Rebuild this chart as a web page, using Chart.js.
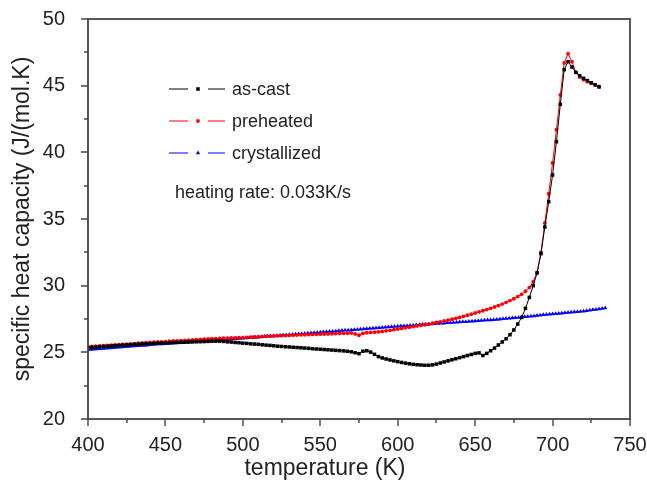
<!DOCTYPE html>
<html><head><meta charset="utf-8">
<script src="https://cdn.jsdelivr.net/npm/chart.js@4.4.1/dist/chart.umd.min.js"></script>
<style>html,body{margin:0;padding:0;background:#fff}#wrap{width:647px;height:481px}</style>
</head><body><div id="wrap"><canvas id="c" width="647" height="481"></canvas></div>
<script>
// temperature grid (K) for as-cast and preheated samples
const tempMain = [
400,402.5,405,407.5,410,412.5,415,417.5,
420,422.5,425,427.5,430,432.5,435,437.5,
440,442.5,445,447.5,450,452.5,455,457.5,
460,462.5,465,467.5,470,472.5,475,477.5,
480,482.5,485,487.5,490,492.5,495,497.5,
500,502.5,505,507.5,510,512.5,515,517.5,
520,522.5,525,527.5,530,532.5,535,537.5,
540,542.5,545,547.5,550,552.5,555,557.5,
560,562.5,565,567.5,570,572.5,575,577.5,
580,582.5,585,587.5,590,592.5,595,597.5,
600,602.5,605,607.5,610,612.5,615,617.5,
620,622.5,625,627.5,630,632.5,635,637.5,
640,642.5,645,647.5,650,652.5,655,657.5,
660,662.5,665,667.5,670,672.5,675,677.5,
680,682.5,685,687.5,690,692.5,695,697.5,
700,702.5,705,707.5,710,712.5,715,717.5,
720,722.5,725,727.5,730];
const cpAsCast = [
25.35,25.37,25.39,25.42,25.44,25.46,25.48,25.50,
25.52,25.54,25.56,25.58,25.60,25.61,25.63,25.64,
25.66,25.67,25.69,25.70,25.71,25.72,25.73,25.74,
25.75,25.76,25.77,25.78,25.79,25.80,25.81,25.82,
25.83,25.84,25.84,25.82,25.79,25.77,25.74,25.72,
25.69,25.67,25.64,25.62,25.60,25.57,25.54,25.52,
25.49,25.46,25.44,25.42,25.40,25.38,25.36,25.34,
25.32,25.30,25.27,25.25,25.23,25.21,25.19,25.17,
25.15,25.13,25.11,25.08,25.04,24.97,24.90,25.08,
25.12,25.02,24.85,24.68,24.58,24.50,24.43,24.36,
24.30,24.24,24.19,24.14,24.10,24.07,24.05,24.03,
24.03,24.06,24.12,24.20,24.28,24.36,24.44,24.52,
24.60,24.68,24.76,24.84,24.92,24.96,24.76,24.92,
25.12,25.32,25.55,25.78,26.02,26.32,26.68,27.12,
27.62,28.30,29.12,30.00,30.95,32.40,34.40,36.30,
38.30,40.80,43.60,46.20,46.80,46.40,46.00,45.75,
45.55,45.38,45.22,45.06,44.90];
const cpPreheated = [
25.42,25.44,25.46,25.48,25.50,25.52,25.54,25.56,
25.58,25.60,25.62,25.64,25.66,25.68,25.70,25.72,
25.74,25.76,25.78,25.79,25.81,25.83,25.85,25.86,
25.88,25.90,25.92,25.93,25.95,25.97,25.99,26.00,
26.02,26.03,26.05,26.06,26.07,26.08,26.09,26.10,
26.11,26.12,26.14,26.15,26.17,26.18,26.20,26.21,
26.23,26.24,26.25,26.26,26.27,26.28,26.30,26.31,
26.32,26.33,26.34,26.35,26.36,26.37,26.38,26.39,
26.41,26.42,26.43,26.44,26.45,26.38,26.28,26.42,
26.47,26.49,26.51,26.54,26.57,26.61,26.65,26.70,
26.75,26.79,26.84,26.88,26.93,26.98,27.03,27.07,
27.12,27.18,27.24,27.29,27.35,27.42,27.48,27.55,
27.62,27.70,27.78,27.86,27.95,28.03,28.12,28.21,
28.30,28.40,28.51,28.62,28.75,28.88,29.02,29.18,
29.35,29.58,29.86,30.30,31.00,32.50,34.70,36.90,
39.20,41.70,44.30,46.70,47.40,46.80,46.00,45.65,
45.45,45.30,45.18,45.06,44.95];
// temperature grid (K) for crystallized sample
const tempCrystallized = [
400,402,404,406,408,410,412,414,416,418,
420,422,424,426,428,430,432,434,436,438,
440,442,444,446,448,450,452,454,456,458,
460,462,464,466,468,470,472,474,476,478,
480,482,484,486,488,490,492,494,496,498,
500,502,504,506,508,510,512,514,516,518,
520,522,524,526,528,530,532,534,536,538,
540,542,544,546,548,550,552,554,556,558,
560,562,564,566,568,570,572,574,576,578,
580,582,584,586,588,590,592,594,596,598,
600,602,604,606,608,610,612,614,616,618,
620,622,624,626,628,630,632,634,636,638,
640,642,644,646,648,650,652,654,656,658,
660,662,664,666,668,670,672,674,676,678,
680,682,684,686,688,690,692,694,696,698,
700,702,704,706,708,710,712,714,716,718,
720,722,724,726,728,730,732,734];
const cpCrystallized = [
25.20,25.22,25.24,25.25,25.27,25.29,25.31,25.33,25.34,25.36,
25.38,25.40,25.42,25.43,25.45,25.47,25.49,25.51,25.52,25.54,
25.56,25.58,25.60,25.62,25.63,25.65,25.66,25.68,25.70,25.71,
25.73,25.74,25.76,25.78,25.79,25.81,25.82,25.84,25.86,25.87,
25.89,25.90,25.92,25.94,25.95,25.97,25.98,26.00,26.02,26.03,
26.05,26.07,26.09,26.11,26.12,26.14,26.16,26.18,26.20,26.21,
26.23,26.25,26.27,26.29,26.30,26.32,26.34,26.36,26.38,26.39,
26.41,26.43,26.45,26.47,26.48,26.50,26.52,26.54,26.56,26.57,
26.59,26.61,26.63,26.65,26.66,26.68,26.70,26.72,26.74,26.75,
26.77,26.79,26.81,26.82,26.84,26.86,26.88,26.90,26.91,26.93,
26.95,26.97,26.98,27.00,27.02,27.03,27.05,27.06,27.08,27.10,
27.11,27.13,27.14,27.16,27.18,27.19,27.21,27.22,27.24,27.26,
27.27,27.29,27.30,27.32,27.34,27.35,27.37,27.38,27.40,27.42,
27.43,27.45,27.47,27.49,27.51,27.53,27.55,27.57,27.59,27.61,
27.63,27.66,27.68,27.71,27.73,27.76,27.78,27.81,27.83,27.86,
27.88,27.90,27.92,27.94,27.96,27.98,28.00,28.02,28.04,28.06,
28.09,28.12,28.15,28.19,28.22,28.25,28.28,28.32];

const seriesNames = ['as-cast', 'preheated', 'crystallized'];
const xTicks = [400,450,500,550,600,650,700,750];
const xMinorTicks = [425,475,525,575,625,675,725];
const yTicks = [20,25,30,35,40,45,50];
const yMinorTicks = [22.5,27.5,32.5,37.5,42.5,47.5];
const xTitle = 'temperature (K)';
const yTitle = 'specific heat capacity (J/(mol.K)';
const annotation = 'heating rate: 0.033K/s';

const FONT = "'Liberation Sans', Arial, sans-serif";
const TXT = '#222';
const FRAME = '#454545';

const toXY = (xs, ys) => xs.map((x, i) => ({x: x, y: ys[i]}));

const styles = [
  {color:'#000000', point:'rect', r:2.5},
  {color:'#ff0000', point:'circle', r:1.9},
  {color:'#0000ff', point:'triangle', r:2.5}
];

const framePlugin = {
  id: 'frame',
  afterDatasetsDraw(chart) {
    const ctx = chart.ctx, a = chart.chartArea;
    const xs = chart.scales.x, ys = chart.scales.y;
    ctx.save();
    ctx.strokeStyle = FRAME;
    ctx.lineWidth = 1.8;
    ctx.strokeRect(a.left, a.top, a.right - a.left, a.bottom - a.top);
    ctx.lineWidth = 1.4;
    ctx.beginPath();
    xTicks.forEach(v => { const p = Math.round(xs.getPixelForValue(v)); ctx.moveTo(p, a.bottom); ctx.lineTo(p, a.bottom + 7); });
    xMinorTicks.forEach(v => { const p = Math.round(xs.getPixelForValue(v)); ctx.moveTo(p, a.bottom); ctx.lineTo(p, a.bottom + 4); });
    yTicks.forEach(v => { const p = Math.round(ys.getPixelForValue(v)); ctx.moveTo(a.left, p); ctx.lineTo(a.left - 7, p); });
    yMinorTicks.forEach(v => { const p = Math.round(ys.getPixelForValue(v)); ctx.moveTo(a.left, p); ctx.lineTo(a.left - 4, p); });
    ctx.stroke();
    // x-axis title (centred on the page, as in the reference)
    ctx.fillStyle = TXT;
    ctx.font = '23px ' + FONT;
    ctx.textAlign = 'center';
    ctx.textBaseline = 'middle';
    ctx.fillText(xTitle, 325, 469);
    ctx.restore();
  }
};

const legendPlugin = {
  id: 'customLegend',
  afterDatasetsDraw(chart) {
    const ctx = chart.ctx;
    ctx.save();
    const x0 = 169, rows = [89, 121, 153];
    chart.data.datasets.forEach((ds, i) => {
      const y = rows[i];
      ctx.strokeStyle = ds.borderColor;
      ctx.lineWidth = 1;
      ctx.beginPath();
      ctx.moveTo(x0, y); ctx.lineTo(x0 + 19, y);
      ctx.moveTo(x0 + 39, y); ctx.lineTo(x0 + 56, y);
      ctx.stroke();
      ctx.fillStyle = ds.borderColor;
      Chart.helpers.drawPoint(ctx, {pointStyle: ds.pointStyle, radius: ds.pointRadius, borderWidth: 0, rotation: 0}, x0 + 29, y);
      ctx.fillStyle = TXT;
      ctx.font = '18px ' + FONT;
      ctx.textBaseline = 'middle';
      ctx.textAlign = 'left';
      ctx.fillText(ds.label, x0 + 63, y + 1);
    });
    ctx.fillText(annotation, 175, 193);
    ctx.restore();
  }
};

new Chart(document.getElementById('c'), {
  type: 'line',
  data: {
    datasets: [
      {label: seriesNames[0], data: toXY(tempMain, cpAsCast)},
      {label: seriesNames[1], data: toXY(tempMain, cpPreheated)},
      {label: seriesNames[2], data: toXY(tempCrystallized, cpCrystallized)}
    ].map((d, i) => Object.assign(d, {
      borderColor: styles[i].color,
      backgroundColor: styles[i].color,
      pointBackgroundColor: styles[i].color,
      pointBorderWidth: 0,
      pointStyle: styles[i].point,
      pointRadius: styles[i].r,
      borderWidth: 1,
      tension: 0,
      fill: false
    }))
  },
  options: {
    responsive: false,
    animation: false,
    devicePixelRatio: 1,
    layout: {padding: {left: 0, right: 17, top: 19, bottom: 0}},
    plugins: {legend: {display: false}, tooltip: {enabled: false}},
    scales: {
      x: {
        type: 'linear', min: 400, max: 750,
        afterBuildTicks: s => { s.ticks = xTicks.map(v => ({value: v})); },
        afterFit: s => { s.height = 62; s.paddingLeft = 0; s.paddingRight = 0; },
        grid: {display: false},
        border: {display: false},
        ticks: {color: TXT, font: {family: FONT, size: 20}, padding: 6, maxRotation: 0, autoSkip: false},
        title: {display: false}
      },
      y: {
        type: 'linear', min: 20, max: 50,
        afterBuildTicks: s => { s.ticks = yTicks.map(v => ({value: v})); },
        afterFit: s => { s.width = 88; s.paddingTop = 0; s.paddingBottom = 0; },
        grid: {display: false},
        border: {display: false},
        ticks: {color: TXT, font: {family: FONT, size: 20}, padding: 15, autoSkip: false},
        title: {display: true, text: yTitle, color: TXT, font: {family: FONT, size: 23}, padding: {top: 9, bottom: 0}}
      }
    }
  },
  plugins: [framePlugin, legendPlugin]
});
</script>
</body></html>
